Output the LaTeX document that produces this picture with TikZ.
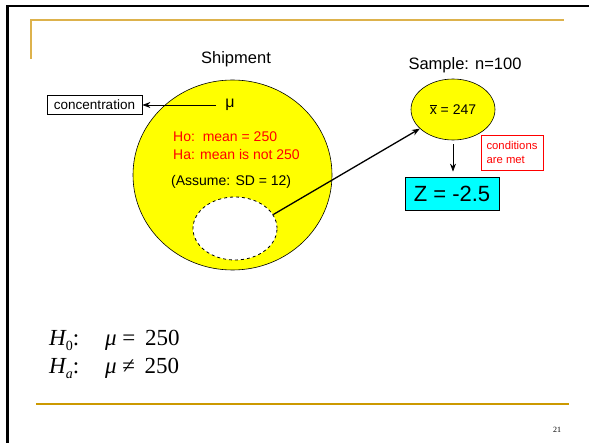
\documentclass[tikz,border=0pt]{standalone}
\usepackage{fontspec}
\setmainfont{Liberation Serif}
\newfontfamily\arial{Liberation Sans}
\usetikzlibrary{arrows.meta,positioning,shapes.geometric}
\definecolor{Gold}{HTML}{DDB24C}
\definecolor{GoldD}{HTML}{CC9900}
\definecolor{Yel}{HTML}{FFFF00}
\definecolor{Aqua}{HTML}{00FFFF}
\definecolor{Red}{HTML}{FF0000}

\begin{document}
\begin{tikzpicture}[x=1pt,y=-1pt,
    lbl/.style={font=\arial\fontsize{16.5}{18}\selectfont,inner sep=0pt,anchor=base},
    txt/.style={font=\arial\fontsize{14}{16}\selectfont,inner sep=0pt,anchor=west},
    blob/.style={ellipse,draw=black,fill=Yel,line width=0.6pt,inner sep=0pt},
    hyp/.style={font=\fontsize{23}{26}\selectfont,inner sep=0pt,anchor=base west},
    >={Stealth[length=8pt,width=6pt]}]
  \useasboundingbox (0,0) rectangle (589,443);
  % slide frame
  \draw[line width=2.5pt] (589,6) -- (7.5,6) -- (7.5,443);
  \draw[Gold,line width=2pt] (31,59) -- (31,20) -- (564,20);
  \draw[GoldD,line width=2pt] (36,404) -- (569,404);
  \node[font=\fontsize{8}{9}\selectfont,inner sep=0pt] (page) at (557,430) {21};

  % population
  \node[lbl] (shiplbl) at (236,64) {Shipment};
  \node[blob,minimum width=199pt,minimum height=190pt] (ship) at (232.5,175) {};
  \node[font=\arial\fontsize{16}{18}\selectfont,inner xsep=9pt,inner ysep=0pt] (mu) at (230,105) {μ};
  \node[draw,line width=0.8pt,minimum width=95pt,minimum height=19pt,inner sep=0pt,
    font=\arial\fontsize{13.5}{15}\selectfont] (conc) at (94.5,105) {concentration};
  \draw[->,line width=0.8pt] (mu.west) -- (conc.east);
  \node[txt,text=Red] (ho) at (173,137) {Ho:\ \ mean = 250};
  \node[txt,text=Red] (ha) at (173,154) {Ha: mean is not 250};
  \node[txt] (sd) at (171,182) {(Assume: SD = 12)};
  \node[ellipse,draw=black,dashed,fill=white,line width=0.8pt,
    minimum width=84pt,minimum height=63pt] (subset) at (235,228.5) {};

  % sample
  \node[lbl] (samplbl) at (465,70) {Sample: n=100};
  \node[blob,minimum width=84pt,minimum height=61pt,
    font=\arial\fontsize{14}{16}\selectfont] (samp) at (453,109.5)
    {\ensuremath{\overline{\mbox{x}}} = 247};
  \draw[->,line width=1.3pt] (subset.20) -- (samp.210);
  \node[draw=Red,line width=0.6pt,minimum width=62pt,minimum height=35pt,inner sep=0pt,
    align=left,text=Red,font=\arial\fontsize{11.3}{14}\selectfont] (cond) at (512,152.5)
    {conditions\\are met};
  \node[draw,fill=Aqua,line width=0.8pt,minimum width=94pt,minimum height=33pt,inner sep=0pt,
    font=\arial\fontsize{22}{24}\selectfont] (zbox) at (452,193.5) {Z = -2.5};
  \draw[->,line width=0.8pt,shorten <=4pt,shorten >=5pt] (samp.south) -- (zbox.north -| samp.south);

  % hypotheses
  \node[hyp] (h0) at (49,346)
    {\makebox[56pt][l]{\itshape H\raisebox{-5pt}{\upshape\fontsize{14}{14}\selectfont 0}\upshape:}{\itshape μ} = \,250};
  \node[hyp] (ha2) at (49,374)
    {\makebox[56pt][l]{\itshape H\raisebox{-5pt}{\fontsize{14}{14}\selectfont a}\upshape:}{\itshape μ} ≠ \,250};
\end{tikzpicture}
\end{document}
